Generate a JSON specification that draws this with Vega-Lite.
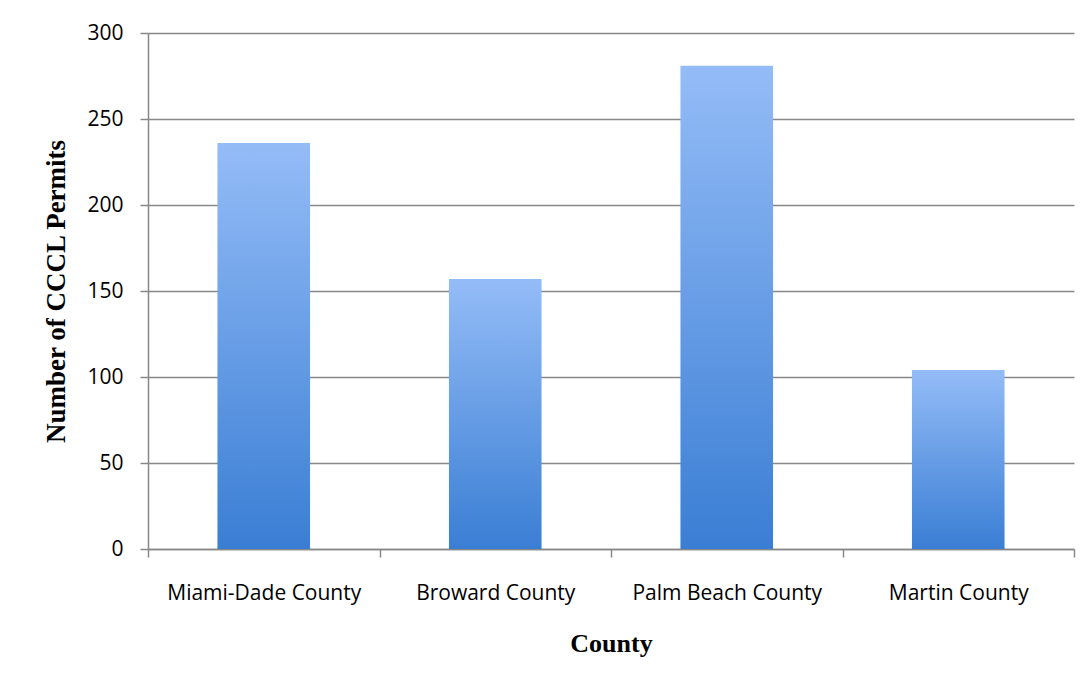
{
  "$schema": "https://vega.github.io/schema/vega-lite/v6.json",
  "width": 926,
  "height": 516,
  "autosize": "none",
  "padding": {"left": 148, "top": 33, "right": 17, "bottom": 137},
  "background": "white",
  "data": {
    "values": [
      {"county": "Miami-Dade County", "permits": 236},
      {"county": "Broward County", "permits": 157},
      {"county": "Palm Beach County", "permits": 281},
      {"county": "Martin County", "permits": 104}
    ]
  },
  "mark": {
    "type": "bar",
    "width": {"band": 0.4},
    "color": {
      "gradient": "linear",
      "x1": 0, "y1": 0, "x2": 0, "y2": 1,
      "stops": [
        {"offset": 0, "color": "#94bcf7"},
        {"offset": 1, "color": "#3a7ed4"}
      ]
    }
  },
  "encoding": {
    "x": {
      "field": "county",
      "type": "nominal",
      "sort": null,
      "scale": {"paddingInner": 0, "paddingOuter": 0},
      "axis": {
        "title": "County",
        "titleFont": "Liberation Serif",
        "titleFontSize": 26,
        "titleFontWeight": "bold",
        "titleColor": "#000",
        "titlePadding": 27,
        "labelAngle": 0,
        "labelFont": "Open Sans",
        "labelFontSize": 21,
        "labelColor": "#000",
        "labelPadding": 25,
        "labelLimit": 0,
        "tickBand": "extent",
        "tickSize": 8,
        "tickColor": "#888",
        "tickWidth": 1.5,
        "domainColor": "#888",
        "domainWidth": 1.5
      }
    },
    "y": {
      "field": "permits",
      "type": "quantitative",
      "scale": {"domain": [0, 300]},
      "axis": {
        "title": "Number of CCCL Permits",
        "titleFont": "Liberation Serif",
        "titleFontSize": 27,
        "titleFontWeight": "bold",
        "titleColor": "#000",
        "titlePadding": 16,
        "values": [0, 50, 100, 150, 200, 250, 300],
        "labelFont": "Open Sans",
        "labelFontSize": 21,
        "labelColor": "#000",
        "labelPadding": 17,
        "tickSize": 8,
        "tickColor": "#888",
        "tickWidth": 1.5,
        "domainColor": "#888",
        "domainWidth": 1.5,
        "grid": true,
        "gridColor": "#888",
        "gridWidth": 1.5
      }
    }
  },
  "config": {
    "view": {"stroke": null}
  }
}
